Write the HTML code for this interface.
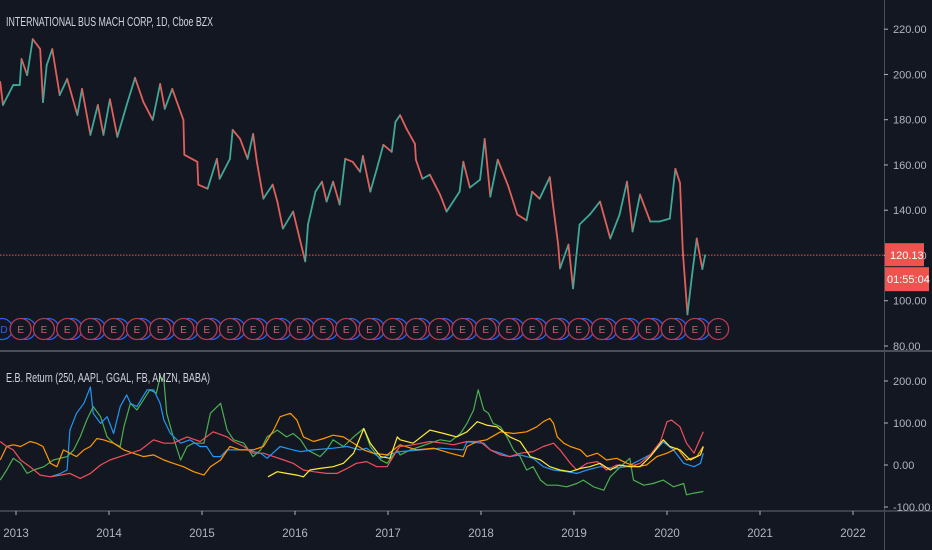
<!DOCTYPE html>
<html><head><meta charset="utf-8">
<style>
html,body{margin:0;padding:0;background:#131722;}
svg{display:block;font-family:"Liberation Sans",sans-serif;}
</style></head>
<body>
<svg id="chart" width="932" height="550" viewBox="0 0 932 550">
<rect x="0" y="0" width="932" height="550" fill="#131722"/>
<g id="price-pane"></g>
<g id="ind-pane"></g>
<line x1="0" y1="351" x2="932" y2="351" stroke="#4a4e59" stroke-width="2"/>
<line x1="0" y1="511" x2="932" y2="511" stroke="#4a4e59" stroke-width="1.5"/>
<line x1="884.5" y1="0" x2="884.5" y2="550" stroke="#4a4e59" stroke-width="1"/>
<g id="axes"></g>
<text x="6" y="26" fill="#d1d4dc" font-size="12.5" textLength="207" lengthAdjust="spacingAndGlyphs">INTERNATIONAL BUS MACH CORP, 1D, Cboe BZX</text>
<text x="6" y="382" fill="#d1d4dc" font-size="12.5" textLength="204" lengthAdjust="spacingAndGlyphs">E.B. Return (250, AAPL, GGAL, FB, AMZN, BABA)</text>
</svg>
<script>
// ---- data ----
const priceDates=[2012.83,2012.86,2012.97,2013.04,2013.06,2013.12,2013.18,2013.26,2013.29,2013.33,2013.39,2013.47,2013.55,2013.66,2013.71,2013.80,2013.88,2013.94,2014.01,2014.09,2014.19,2014.28,2014.37,2014.47,2014.55,2014.60,2014.68,2014.80,2014.81,2014.95,2014.96,2015.06,2015.16,2015.19,2015.30,2015.33,2015.41,2015.49,2015.55,2015.59,2015.66,2015.76,2015.81,2015.87,2015.98,2016.05,2016.11,2016.14,2016.22,2016.29,2016.34,2016.41,2016.48,2016.54,2016.62,2016.70,2016.73,2016.81,2016.88,2016.95,2017.04,2017.08,2017.13,2017.20,2017.29,2017.30,2017.37,2017.45,2017.56,2017.63,2017.77,2017.81,2017.88,2017.99,2018.04,2018.10,2018.18,2018.29,2018.39,2018.49,2018.55,2018.63,2018.74,2018.77,2018.83,2018.85,2018.94,2018.99,2019.06,2019.17,2019.28,2019.39,2019.49,2019.57,2019.63,2019.71,2019.82,2019.92,2020.03,2020.09,2020.14,2020.17,2020.22,2020.27,2020.32,2020.38,2020.41];
const priceValues=[196.7,186.5,195.3,195.3,206.8,199.7,215.6,211.2,187.8,204.1,211.2,190.9,198,182.1,193.6,173.3,186.5,173.3,189,172.4,186.5,198.5,187.8,179.9,195.8,184.8,193.6,179.9,164.5,161.4,151.3,149.5,162.7,153.9,162.7,175.5,171.5,162.7,173.7,161.4,145.1,151.3,143.8,131.9,139.4,127.5,117.4,133.7,148.2,152.6,143.8,152.6,142.5,162.7,161.4,157,164,148.2,158.3,168.9,165.8,179,182,175.9,169.3,162.3,153.9,155.7,146.9,139.4,148.2,161.4,150,153.5,171.5,146,162.3,151,138.1,135.5,148.2,145.1,154.6,143.8,124.8,114.3,124.8,105.5,133.7,138.1,143.8,127.5,138.1,152.6,130.6,146.9,135,135,136.3,158.3,152,121.8,94,111.6,127.5,114,120.13];
const lastPrice=120.13;
const priceTicks=[220,200,180,160,140,120,100,80];
const indTicks=[200,100,0,-100];
const yearTicks=[2013,2014,2015,2016,2017,2018,2019,2020,2021,2022];
const earningsDates=[2013.05,2013.30,2013.55,2013.80,2014.05,2014.30,2014.55,2014.80,2015.05,2015.30,2015.55,2015.80,2016.05,2016.30,2016.55,2016.80,2017.05,2017.30,2017.55,2017.80,2018.05,2018.30,2018.55,2018.80,2019.05,2019.30,2019.55,2019.80,2020.05,2020.30,2020.55];
const dividendDates=[2012.85,2013.10,2013.35,2013.60,2013.85,2014.10,2014.35,2014.60,2014.85,2015.10,2015.35,2015.60,2015.85,2016.10,2016.35,2016.60,2016.85,2017.10,2017.35,2017.60,2017.85,2018.10,2018.35,2018.60,2018.85,2019.10,2019.35,2019.60,2019.85,2020.10,2020.35];

const fbDates=[2013.37,2013.48,2013.55,2013.58,2013.65,2013.73,2013.80,2013.83,2013.91,2013.98,2014.05,2014.12,2014.19,2014.23,2014.30,2014.41,2014.48,2014.55,2014.59,2014.66,2014.77,2014.87,2014.98,2015.05,2015.12,2015.20,2015.27,2015.34,2015.48,2015.63,2015.70,2015.84,2015.98,2016.06,2016.20,2016.41,2016.56,2016.70,2016.77,2016.92,2017.06,2017.13,2017.35,2017.56,2017.81,2017.85,2018.03,2018.10,2018.21,2018.31,2018.42,2018.56,2018.67,2018.78,2018.92,2019.03,2019.14,2019.28,2019.42,2019.57,2019.71,2019.85,2019.96,2020.07,2020.18,2020.29,2020.36,2020.39];
const fbValues=[-28,-20,-12,83,123,147,186,123,99,115,75,139,167,147,139,179,179,147,107,75,52,60,44,44,20,20,36,36,36,28,16,44,36,32,36,40,44,36,40,16,28,32,36,40,36,55,52,36,28,20,24,16,-4,-12,-16,-20,-12,-4,-8,-4,12,28,55,36,4,-4,4,28];

const ggalDates=[2012.83,2012.90,2012.97,2013.05,2013.12,2013.19,2013.30,2013.40,2013.55,2013.62,2013.69,2013.76,2013.83,2013.91,2013.98,2014.05,2014.12,2014.16,2014.23,2014.30,2014.37,2014.44,2014.51,2014.55,2014.59,2014.62,2014.69,2014.77,2014.84,2014.91,2015.02,2015.09,2015.20,2015.27,2015.34,2015.45,2015.55,2015.63,2015.70,2015.81,2015.91,2015.98,2016.06,2016.13,2016.20,2016.27,2016.34,2016.41,2016.52,2016.63,2016.74,2016.81,2016.92,2016.99,2017.10,2017.13,2017.24,2017.35,2017.45,2017.56,2017.67,2017.78,2017.85,2017.92,2017.97,2018.03,2018.08,2018.13,2018.21,2018.28,2018.35,2018.42,2018.49,2018.56,2018.64,2018.71,2018.82,2018.92,2019.03,2019.10,2019.21,2019.32,2019.39,2019.50,2019.60,2019.64,2019.75,2019.85,2019.96,2020.07,2020.18,2020.21,2020.29,2020.39];
const ggalValues=[-36,-12,16,4,-20,-12,-4,12,20,36,67,107,139,115,67,52,44,91,147,131,155,179,171,210,202,123,67,12,44,52,52,123,147,83,60,52,20,36,67,83,67,75,60,36,28,20,36,60,44,67,87,44,12,4,36,24,36,44,52,60,56,75,99,131,179,131,123,99,91,67,36,20,-12,-4,-36,-48,-48,-52,-44,-36,-52,-60,-28,-4,16,-36,-48,-44,-36,-52,-44,-71,-67,-63];

const aaplDates=[2012.83,2012.90,2012.97,2013.05,2013.15,2013.26,2013.37,2013.48,2013.58,2013.69,2013.80,2013.91,2014.01,2014.12,2014.23,2014.34,2014.48,2014.59,2014.69,2014.84,2014.98,2015.12,2015.27,2015.34,2015.45,2015.55,2015.66,2015.77,2015.88,2015.98,2016.09,2016.20,2016.34,2016.45,2016.56,2016.66,2016.77,2016.88,2016.99,2017.10,2017.13,2017.27,2017.45,2017.60,2017.70,2017.85,2017.99,2018.10,2018.21,2018.31,2018.42,2018.56,2018.67,2018.78,2018.85,2018.96,2019.03,2019.14,2019.25,2019.35,2019.46,2019.60,2019.71,2019.82,2019.93,2020.00,2020.05,2020.14,2020.21,2020.29,2020.32,2020.39];
const aaplValues=[56,44,36,12,-4,-24,-28,-24,-20,-32,-20,0,12,20,28,36,60,52,52,67,56,79,67,56,44,28,28,20,12,4,-12,-16,-20,-20,-8,4,8,-4,-4,36,44,48,56,52,48,56,56,36,24,20,28,32,44,52,36,4,-12,4,8,-12,0,-4,4,24,56,103,107,91,52,28,44,79];

const amznDates=[2012.83,2012.90,2012.97,2013.05,2013.15,2013.22,2013.29,2013.37,2013.44,2013.51,2013.58,2013.65,2013.73,2013.80,2013.87,2013.94,2014.05,2014.16,2014.26,2014.37,2014.48,2014.59,2014.69,2014.80,2014.91,2015.02,2015.09,2015.20,2015.30,2015.41,2015.55,2015.66,2015.77,2015.84,2015.95,2016.02,2016.09,2016.20,2016.31,2016.41,2016.52,2016.63,2016.74,2016.84,2016.99,2017.13,2017.31,2017.49,2017.67,2017.81,2017.85,2017.96,2018.06,2018.21,2018.35,2018.49,2018.60,2018.67,2018.74,2018.78,2018.82,2018.89,2018.96,2019.07,2019.14,2019.25,2019.35,2019.46,2019.57,2019.68,2019.78,2019.89,2020.00,2020.11,2020.21,2020.32,2020.39];
const amznValues=[12,44,48,44,56,52,44,4,-4,36,28,20,36,44,63,60,52,36,28,20,24,12,4,-4,-16,-24,-4,12,44,36,36,44,83,115,123,107,67,56,63,71,67,52,36,28,24,48,36,40,28,20,44,56,60,79,75,79,91,103,111,99,67,52,44,36,20,28,12,16,4,-4,0,20,28,40,12,20,44];

const babaDates=[2015.71,2015.81,2015.91,2016.02,2016.09,2016.16,2016.27,2016.41,2016.52,2016.63,2016.74,2016.81,2016.92,2017.02,2017.10,2017.13,2017.27,2017.45,2017.60,2017.74,2017.85,2017.96,2018.06,2018.17,2018.31,2018.42,2018.53,2018.64,2018.74,2018.85,2018.96,2019.07,2019.17,2019.28,2019.39,2019.49,2019.60,2019.71,2019.82,2019.96,2020.03,2020.14,2020.25,2020.36,2020.39];
const babaValues=[-28,-16,-20,-24,-28,-12,-8,-4,4,28,87,52,20,16,67,60,52,83,75,67,79,103,95,91,67,56,20,12,-4,-12,-16,-8,-4,4,-12,0,-4,-4,20,60,44,36,12,24,44];

// ---- scales ----
const X=t=>16+(t-2013)*93;
const YP=p=>346-(p-80)*2.263;
const YI=v=>465-v*0.42;
const NS="http://www.w3.org/2000/svg";
function mk(tag,attrs,parent){const e=document.createElementNS(NS,tag);for(const k in attrs)e.setAttribute(k,attrs[k]);parent.appendChild(e);return e;}

const pp=document.getElementById('price-pane');
const ip=document.getElementById('ind-pane');
const ax=document.getElementById('axes');

const lp=mk('line',{x1:0,x2:884,y1:YP(lastPrice),y2:YP(lastPrice),stroke:'#ef5350','stroke-width':1,'stroke-dasharray':'1.5 1.5'},pp);



for(let i=1;i<priceValues.length;i++){
  const up=priceValues[i]>=priceValues[i-1];
  const c=mk('line',{x1:X(priceDates[i-1]),y1:YP(priceValues[i-1]),x2:X(priceDates[i]),y2:YP(priceValues[i]),stroke:up?'#3fa898':'#e0605a','stroke-width':1.8,'stroke-linecap':'round'},pp);
  
  
}

dividendDates.forEach((d,i)=>{
  const g=mk('g',{},pp);
  
  
  mk('circle',{cx:X(d),cy:329,r:10.5,fill:'#131722',stroke:'#2962ff','stroke-width':1.3},g);
  if(i===0){const t=mk('text',{x:X(d)+2,y:333,fill:'#2962ff','font-size':10,'text-anchor':'middle'},g);t.textContent='D';}
});
earningsDates.forEach(d=>{
  const g=mk('g',{},pp);
  
  
  mk('circle',{cx:X(d),cy:329,r:10.5,fill:'#131722',stroke:'#b83a56','stroke-width':1.3},g);
  const t=mk('text',{x:X(d),y:333,fill:'#d9566e','font-size':10,'text-anchor':'middle'},g);t.textContent='E';
});

const series=[[ggalDates,ggalValues,'#4caf50','ggal-line'],[fbDates,fbValues,'#2196f3','fb-line'],[amznDates,amznValues,'#ff9800','amzn-line'],[aaplDates,aaplValues,'#f0505a','aapl-line'],[babaDates,babaValues,'#ffeb3b','baba-line']];
series.forEach(s=>{
  const pts=s[0].map((d,i)=>X(d).toFixed(1)+','+YI(s[1][i]).toFixed(1)).join(' ');
  const l=mk('polyline',{points:pts,fill:'none',stroke:s[2],'stroke-width':1.2,'stroke-linejoin':'round'},ip);
  
  
});

priceTicks.forEach(p=>{
  mk('line',{x1:884,x2:888,y1:YP(p),y2:YP(p),stroke:'#b2b5be'},ax);
  const t=mk('text',{x:893,y:YP(p)+4,fill:'#b2b5be','font-size':11},ax);
  
  
  t.textContent=p.toFixed(2);
});
indTicks.forEach(v=>{
  mk('line',{x1:884,x2:888,y1:YI(v),y2:YI(v),stroke:'#b2b5be'},ax);
  const t=mk('text',{x:893,y:YI(v)+4,fill:'#b2b5be','font-size':11},ax);
  
  
  t.textContent=v.toFixed(2);
});
yearTicks.forEach(y=>{
  mk('line',{x1:X(y),x2:X(y),y1:511,y2:515,stroke:'#b2b5be'},ax);
  const t=mk('text',{x:X(y),y:537,fill:'#b2b5be','font-size':11.5,'text-anchor':'middle'},ax);
  
  
  t.textContent=y;
});
const yl=YP(lastPrice);
const b1=mk('rect',{x:885,y:yl-12,width:39,height:23,fill:'#ef5350'},ax);


const bt=mk('text',{x:890,y:yl+4,fill:'#ffffff','font-size':11},ax);bt.textContent=lastPrice.toFixed(2);
const b2=mk('rect',{x:885,y:yl+12,width:44,height:24,fill:'#ef5350'},ax);


const ct=mk('text',{x:887,y:yl+28,fill:'#ffffff','font-size':11},ax);ct.textContent='01:55:04';
</script>
</body></html>
